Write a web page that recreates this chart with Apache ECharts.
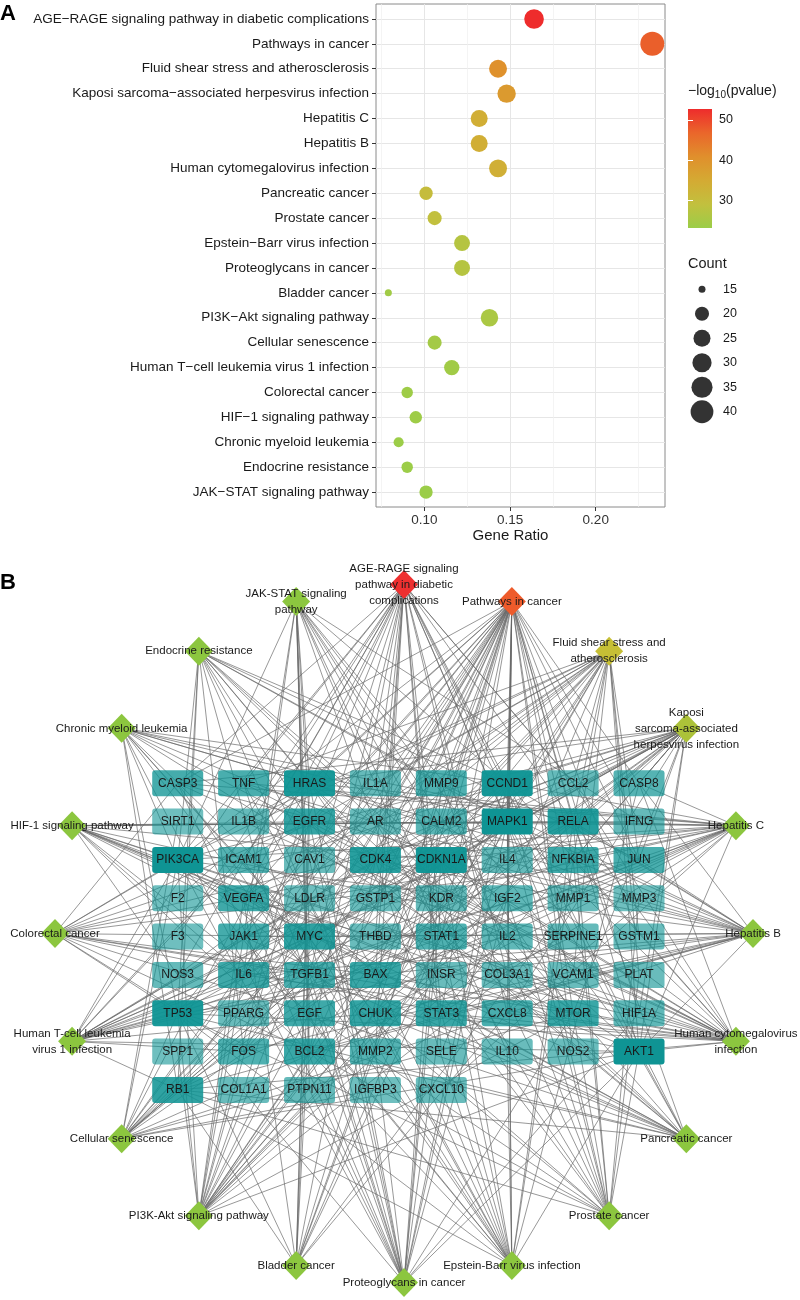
<!DOCTYPE html>
<html><head><meta charset="utf-8">
<script src="https://cdn.jsdelivr.net/npm/echarts@6/dist/echarts.min.js"></script>
<style>html,body{margin:0;padding:0;background:#fff}#c{width:800px;height:1300px}</style>
</head><body><div id="c"></div>
<script>
// ---------------- DATA ----------------
const pathways = ['AGE−RAGE signaling pathway in diabetic complications','Pathways in cancer','Fluid shear stress and atherosclerosis','Kaposi sarcoma−associated herpesvirus infection','Hepatitis C','Hepatitis B','Human cytomegalovirus infection','Pancreatic cancer','Prostate cancer','Epstein−Barr virus infection','Proteoglycans in cancer','Bladder cancer','PI3K−Akt signaling pathway','Cellular senescence','Human T−cell leukemia virus 1 infection','Colorectal cancer','HIF−1 signaling pathway','Chronic myeloid leukemia','Endocrine resistance','JAK−STAT signaling pathway'];
const networkLabels = ['AGE-RAGE signaling\npathway in diabetic\ncomplications','Pathways in cancer','Fluid shear stress and\natherosclerosis','Kaposi\nsarcoma-associated\nherpesvirus infection','Hepatitis C','Hepatitis B','Human cytomegalovirus\ninfection','Pancreatic cancer','Prostate cancer','Epstein-Barr virus infection','Proteoglycans in cancer','Bladder cancer','PI3K-Akt signaling pathway','Cellular senescence','Human T-cell leukemia\nvirus 1 infection','Colorectal cancer','HIF-1 signaling pathway','Chronic myeloid leukemia','Endocrine resistance','JAK-STAT signaling\npathway'];
const geneRatio = [0.164,0.233,0.143,0.148,0.132,0.132,0.143,0.101,0.106,0.122,0.122,0.079,0.138,0.106,0.116,0.090,0.095,0.085,0.090,0.101];
const geneCount = [31,44,27,28,25,25,27,19,20,23,23,15,26,20,22,17,18,16,17,19];
const negLog10P = [52.7,47.5,40.5,38.5,34,34,33.5,30,29,27,27,24,25.5,24.5,24,23.5,23.5,23.3,23.2,23.1];
const xMajorTicks = [0.10,0.15,0.20];
const xMinorTicks = [0.075,0.125,0.175,0.225];
const colorbarTicks = [30,40,50];
const sizeLegendCounts = [15,20,25,30,35,40];
const geneRows = [
 ['CASP3','TNF','HRAS','IL1A','MMP9','CCND1','CCL2','CASP8'],
 ['SIRT1','IL1B','EGFR','AR','CALM2','MAPK1','RELA','IFNG'],
 ['PIK3CA','ICAM1','CAV1','CDK4','CDKN1A','IL4','NFKBIA','JUN'],
 ['F2','VEGFA','LDLR','GSTP1','KDR','IGF2','MMP1','MMP3'],
 ['F3','JAK1','MYC','THBD','STAT1','IL2','SERPINE1','GSTM1'],
 ['NOS3','IL6','TGFB1','BAX','INSR','COL3A1','VCAM1','PLAT'],
 ['TP53','PPARG','EGF','CHUK','STAT3','CXCL8','MTOR','HIF1A'],
 ['SPP1','FOS','BCL2','MMP2','SELE','IL10','NOS2','AKT1'],
 ['RB1','COL1A1','PTPN11','IGFBP3','CXCL10']
];
const pathwayGenes = [
 ['AKT1','BAX','BCL2','CASP3','CCL2','CCND1','CDK4','COL1A1','COL3A1','CXCL8','F3','ICAM1','IL1A','IL1B','IL6','MAPK1','MMP2','NOS3','PIK3CA','RELA','SELE','SERPINE1','STAT1','STAT3','TGFB1','THBD','TNF','VCAM1','VEGFA','JUN','HRAS'],
 ['AKT1','AR','BAX','BCL2','CASP3','CASP8','CCND1','CDK4','CDKN1A','CHUK','CXCL8','EGF','EGFR','FOS','GSTM1','GSTP1','HIF1A','HRAS','IFNG','IGF2','IL2','IL4','IL6','JAK1','JUN','MAPK1','MMP1','MMP2','MMP9','MTOR','MYC','NFKBIA','NOS2','PIK3CA','PPARG','RB1','RELA','STAT1','STAT3','TGFB1','TP53','VEGFA','CALM2','F2'],
 ['AKT1','CALM2','CAV1','CCL2','CHUK','FOS','GSTM1','GSTP1','ICAM1','IL1A','IL1B','JUN','KDR','MMP2','MMP9','NFKBIA','NOS3','PIK3CA','PLAT','RELA','SELE','THBD','TNF','TP53','VCAM1','VEGFA','MAPK1'],
 ['AKT1','BAX','CASP3','CASP8','CCND1','CDK4','CHUK','CXCL8','FOS','HIF1A','HRAS','IL6','JAK1','JUN','MAPK1','MTOR','MYC','NFKBIA','PIK3CA','RB1','RELA','STAT1','STAT3','TP53','VEGFA','CALM2','ICAM1','CDKN1A'],
 ['AKT1','BAX','CASP3','CASP8','CCND1','CDK4','CDKN1A','CHUK','CXCL8','EGFR','HRAS','LDLR','MAPK1','NFKBIA','PIK3CA','RB1','RELA','STAT1','STAT3','TNF','TP53','JAK1','EGF','PPARG','CXCL10'],
 ['AKT1','BAX','BCL2','CASP3','CASP8','CCND1','CDK4','CDKN1A','CHUK','CXCL8','FOS','HRAS','IL6','JAK1','JUN','MAPK1','MMP9','MYC','NFKBIA','PIK3CA','RB1','RELA','STAT3','TNF','TP53'],
 ['AKT1','BAX','CASP3','CASP8','CCL2','CCND1','CDK4','CDKN1A','CHUK','CXCL8','EGFR','HRAS','IL1B','IL6','MAPK1','MTOR','MYC','NFKBIA','PIK3CA','RB1','RELA','STAT3','TNF','TP53','VEGFA','CALM2','ICAM1'],
 ['AKT1','CCND1','CDK4','CHUK','EGF','EGFR','JAK1','MAPK1','PIK3CA','RB1','RELA','STAT1','STAT3','TGFB1','TP53','VEGFA','HRAS','CDKN1A','BCL2'],
 ['AKT1','AR','BCL2','CCND1','CDKN1A','CHUK','EGF','EGFR','HRAS','MAPK1','MTOR','NFKBIA','PIK3CA','RB1','RELA','TP53','MMP3','MMP9','PLAT','IGF2'],
 ['AKT1','BAX','BCL2','CASP3','CASP8','CCND1','CDK4','CDKN1A','CHUK','CXCL10','IL10','JAK1','MYC','NFKBIA','PIK3CA','RB1','RELA','STAT1','STAT3','TNF','TP53','ICAM1','MAPK1'],
 ['AKT1','CAV1','CCND1','EGFR','HIF1A','HRAS','IGF2','KDR','MAPK1','MMP2','MMP9','MTOR','MYC','PIK3CA','STAT3','TGFB1','TNF','VEGFA','CDKN1A','PTPN11','CASP3','TP53','EGF'],
 ['CCND1','CDK4','CDKN1A','CXCL8','EGF','EGFR','HRAS','MAPK1','MMP1','MMP2','MMP9','MYC','RB1','TP53','VEGFA'],
 ['AKT1','BCL2','CCND1','CDK4','CDKN1A','CHUK','COL1A1','COL3A1','EGF','EGFR','HRAS','IL2','IL4','IL6','INSR','JAK1','KDR','MAPK1','MTOR','MYC','PIK3CA','RELA','SPP1','TP53','VEGFA','IGF2'],
 ['AKT1','CALM2','CCND1','CDK4','CDKN1A','CXCL8','HRAS','IL6','MAPK1','MTOR','MYC','PIK3CA','RB1','RELA','SERPINE1','SIRT1','TGFB1','TP53','IL1A','IGFBP3'],
 ['AKT1','BAX','CCND1','CDK4','CDKN1A','CHUK','FOS','HRAS','IL2','IL6','JAK1','JUN','MAPK1','MYC','NFKBIA','PIK3CA','RB1','RELA','TGFB1','TNF','TP53','ICAM1'],
 ['AKT1','BAX','BCL2','CASP3','CCND1','EGF','EGFR','HRAS','JUN','MAPK1','MTOR','MYC','PIK3CA','TGFB1','TP53','FOS','CDKN1A'],
 ['AKT1','BCL2','CDKN1A','EGF','EGFR','HIF1A','IFNG','IL6','INSR','MAPK1','MTOR','NOS2','NOS3','PIK3CA','RELA','SERPINE1','VEGFA','STAT3'],
 ['AKT1','CCND1','CDK4','CDKN1A','CHUK','HRAS','MAPK1','MYC','NFKBIA','PIK3CA','PTPN11','RB1','RELA','TGFB1','TP53','BAX'],
 ['AKT1','BAX','BCL2','CCND1','CDK4','CDKN1A','EGFR','HRAS','MAPK1','MMP2','MMP9','MTOR','PIK3CA','RB1','TP53','JUN','FOS'],
 ['AKT1','CCND1','EGF','EGFR','IFNG','IL10','IL2','IL4','IL6','JAK1','MYC','PIK3CA','PTPN11','STAT1','STAT3','BCL2','HRAS','CDKN1A','MTOR']
];

// ---------------- STYLE / LAYOUT ----------------
const FONT = '"Liberation Sans", Arial, sans-serif';
const pMin = 23.1, pMax = 52.75;
const pColors = ['#9bcd48','#c2c03e','#d4aa33','#e08f2c','#ea662b','#ee2c2c'];
const netStops = [[23,[140,198,63]],[36,[140,198,63]],[40.5,[198,191,53]],[47.5,[238,91,43]],[52.7,[238,48,48]]];
function netColor(v){
  for(let i=1;i<netStops.length;i++){
    if(v<=netStops[i][0]){const a=netStops[i-1],b=netStops[i];const t=(v-a[0])/(b[0]-a[0]);
      const c=a[1].map((x,k)=>Math.round(x+(b[1][k]-x)*t));return 'rgb('+c.join(',')+')';}
  }
  return 'rgb('+netStops[netStops.length-1][1].join(',')+')';
}
const cMin = 15, cMax = 44;
function dotSize(c){ return 7 + 17*Math.sqrt(Math.max(0,(c-cMin)/(cMax-cMin))); }

// network layout constants (unit circle coordinates)
const colX0 = -0.6484, colStep = 0.18883, rowY0 = 0.4304, rowStep = 0.10983;
const rectPath = 'path://M3,0L48,0Q51,0 51,3L51,23Q51,26 48,26L3,26Q0,26 0,23L0,3Q0,0 3,0Z';

// ---------------- BUILD NETWORK ----------------
const geneIndex = {}; const geneList = [];
geneRows.forEach((row,r)=>row.forEach((g,c)=>{geneIndex[g]=geneList.length;geneList.push({g,r,c});}));
const degree = geneList.map(()=>0);
const links = [];
pathwayGenes.forEach((gs,i)=>gs.forEach(g=>{const gi=geneIndex[g];degree[gi]++;links.push({source:i,target:pathways.length+gi});}));
const dMin = Math.min(...degree), dMax = Math.max(...degree);
const nodes = [];
pathways.forEach((p,i)=>{
  const th = i*2*Math.PI/pathways.length;
  nodes.push({name:networkLabels[i], value:[Math.sin(th),Math.cos(th)], symbol:'diamond', symbolSize:[28,29],
    itemStyle:{color:netColor(negLog10P[i])},
    label:{show:true,position:'inside',fontSize:11.5,lineHeight:16,color:'#1a1a1a',fontFamily:FONT}});
});
geneList.forEach((o,k)=>{
  const a = 0.6 + 0.4*(degree[k]-dMin)/(dMax-dMin);
  nodes.push({name:o.g, value:[colX0+o.c*colStep, rowY0-o.r*rowStep], symbol:rectPath, symbolSize:[51,26],
    itemStyle:{color:'rgba(15,148,148,'+a.toFixed(3)+')'},
    label:{show:true,position:'inside',fontSize:12,color:'#1a1a1a',fontFamily:FONT}});
});

// ---------------- CHART ----------------
const chart = echarts.init(document.getElementById('c'), null, {renderer:'canvas'});
const gradStops = pColors.map((c,i)=>({offset:i/(pColors.length-1), color:c}));
const option = {
  animation:false,
  textStyle:{fontFamily:FONT},
  grid:[
    {left:376, top:4, width:289, height:503, show:true, borderColor:'#8a8a8a', borderWidth:1, backgroundColor:'transparent'},
    {left:55, top:584.5, width:698, height:698},
    {left:688, top:109, width:24, height:119, show:true, borderWidth:0,
      backgroundColor:new echarts.graphic.LinearGradient(0,1,0,0,gradStops)},
    {left:690, top:277, width:24, height:147}
  ],
  xAxis:[
    {gridIndex:0, type:'value', min:0.0718, max:0.2404,
      axisLine:{show:false}, axisTick:{show:true, length:4, customValues:xMajorTicks, lineStyle:{color:'#333'}},
      axisLabel:{customValues:xMajorTicks, formatter:v=>v.toFixed(2), fontSize:13.5, color:'#333', margin:6},
      splitLine:{show:true, lineStyle:{color:'#e6e6e6', width:1}},
      name:'Gene Ratio', nameLocation:'middle', nameGap:21, nameTextStyle:{fontSize:15, color:'#1a1a1a', padding:[0,20,0,0]}},
    {gridIndex:0, type:'value', min:0.0718, max:0.2404,
      axisLine:{show:false}, axisTick:{show:false, customValues:xMinorTicks}, axisLabel:{show:false},
      splitLine:{show:true, lineStyle:{color:'#efefef', width:0.7}}},
    {gridIndex:1, type:'value', min:-1, max:1, show:false},
    {gridIndex:2, type:'value', min:0, max:1, show:false},
    {gridIndex:3, type:'value', min:-1, max:1, show:false}
  ],
  yAxis:[
    {gridIndex:0, type:'value', min:0.4, max:20.6, inverse:true,
      axisLine:{show:false}, axisTick:{show:true, length:4, customValues:pathways.map((p,i)=>i+1), lineStyle:{color:'#333'}},
      axisLabel:{customValues:pathways.map((p,i)=>i+1), formatter:v=>pathways[Math.round(v)-1], fontSize:13.5, color:'#1a1a1a', margin:7},
      splitLine:{show:true, lineStyle:{color:'#e6e6e6', width:1}}},
    {gridIndex:1, type:'value', min:-1, max:1, show:false},
    {gridIndex:2, type:'value', min:pMin, max:pMax, position:'right',
      axisLine:{show:false}, axisTick:{show:true, inside:true, length:5, customValues:colorbarTicks, lineStyle:{color:'#fff', width:1}},
      axisLabel:{customValues:colorbarTicks, fontSize:12.5, color:'#1a1a1a', margin:7}, splitLine:{show:false}},
    {gridIndex:2, type:'value', min:pMin, max:pMax, position:'left',
      axisLine:{show:false}, axisTick:{show:true, inside:true, length:5, customValues:colorbarTicks, lineStyle:{color:'#fff', width:1}},
      axisLabel:{show:false}, splitLine:{show:false}},
    {gridIndex:3, type:'category', data:sizeLegendCounts.map(String), inverse:true, position:'right',
      axisLine:{show:false}, axisTick:{show:false}, axisLabel:{fontSize:12.5, color:'#1a1a1a', margin:9}, splitLine:{show:false}}
  ],
  visualMap:[{type:'continuous', show:false, seriesIndex:0, dimension:3, min:pMin, max:pMax, inRange:{color:pColors}}],
  graphic:[
    {type:'text', left:0, top:3, style:{text:'A', font:'bold 22px '+FONT, fill:'#000'}},
    {type:'text', left:0, top:572, style:{text:'B', font:'bold 22px '+FONT, fill:'#000'}},
    {type:'text', left:688, top:84, style:{text:'{n|−log}{s|10}{n|(pvalue)}',
      rich:{n:{fontSize:14, lineHeight:18, verticalAlign:'middle', fill:'#1a1a1a', fontFamily:FONT},
            s:{fontSize:10, lineHeight:18, verticalAlign:'bottom', fill:'#1a1a1a', fontFamily:FONT}}}},
    {type:'text', left:688, top:256, style:{text:'Count', fontSize:14.5, fill:'#1a1a1a', fontFamily:FONT}}
  ],
  series:[
    {type:'scatter', xAxisIndex:0, yAxisIndex:0, z:3,
      data:geneRatio.map((r,i)=>[r,i+1,geneCount[i],negLog10P[i]]),
      symbolSize:v=>dotSize(v[2]), itemStyle:{opacity:1}},
    {type:'scatter', xAxisIndex:4, yAxisIndex:4,
      data:sizeLegendCounts.map((c,i)=>[0,i,c]), symbolSize:v=>dotSize(v[2]), itemStyle:{color:'#000'}},
    {type:'graph', coordinateSystem:'cartesian2d', xAxisIndex:2, yAxisIndex:1,
      data:nodes, links:links, edgeSymbol:['none','none'],
      lineStyle:{color:'#666', width:0.8, opacity:0.85, curveness:0},
      emphasis:{disabled:true}}
  ]
};
chart.setOption(option);
</script></body></html>
